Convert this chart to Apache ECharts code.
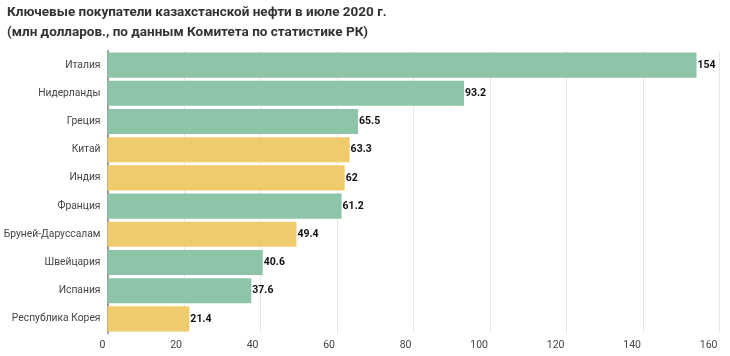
<!DOCTYPE html>
<html><head><meta charset="utf-8">
<script src="https://cdn.jsdelivr.net/npm/echarts@6/dist/echarts.min.js"></script>
<style>html,body{margin:0;padding:0;background:#fff}#c{width:730px;height:356px}</style>
</head><body><div id="c"></div>
<script>
const categories = ["Италия","Нидерланды","Греция","Китай","Индия","Франция","Бруней-Даруссалам","Швейцария","Испания","Республика Корея"];
const values = [154, 93.2, 65.5, 63.3, 62, 61.2, 49.4, 40.6, 37.6, 21.4];
const groups = ["g","g","g","y","y","g","y","g","g","y"];
const colors = {g:"#8ec4a8", y:"#f0cb6b"};
const chart = echarts.init(document.getElementById('c'));
chart.setOption({
  animation:false,
  textStyle:{fontFamily:'Roboto'},
  title:{text:"Ключевые покупатели казахстанской нефти в июле 2020 г.\n(млн долларов., по данным Комитета по статистике РК)",
    left:7, top:3, padding:0, textStyle:{fontSize:13.5, fontWeight:'bold', color:'#333', lineHeight:20, fontFamily:'Roboto'}},
  grid:{left:107.5, right:10.5, top:51, bottom:23, containLabel:false, outerBoundsMode:'none'},
  xAxis:{type:'value', min:0, max:160, interval:20,
    axisLine:{show:false}, axisTick:{show:false},
    splitLine:{lineStyle:{color:'#e6e6e6'}},
    axisLabel:{color:'#444', fontSize:10.5, align:'right', margin:7, padding:[0,2,0,0]}},
  yAxis:{type:'category', data:categories, inverse:true,
    axisLine:{show:true, lineStyle:{color:'#999', width:2}}, axisTick:{show:false},
    axisLabel:{color:'#444', fontSize:10.3, margin:7}},
  series:[{type:'bar', barCategoryGap:'11%',
    data: values.map((v,i)=>({value:v, itemStyle:{color:colors[groups[i]]}})),
    label:{show:true, position:'right', distance:1, color:'#111', fontWeight:'bold', fontSize:10.5}}]
});
</script></body></html>
